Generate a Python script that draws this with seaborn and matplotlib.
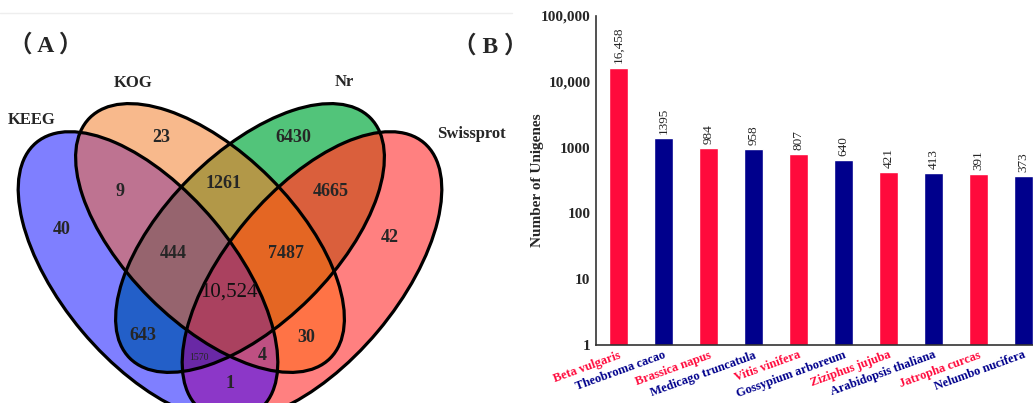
import numpy as np
import pandas as pd
import matplotlib
matplotlib.use("Agg")
import matplotlib.pyplot as plt
import seaborn as sns
from matplotlib.patches import Ellipse
from matplotlib.colors import ListedColormap
from matplotlib.ticker import FixedLocator, FuncFormatter, LogLocator

# ---- panel A data: annotation sets and region counts ----
set_names = ["KEEG", "KOG", "Nr", "Swissprot"]
region_keys = ["A", "B", "C", "D", "AB", "BC", "CD", "ABC", "BCD", "ABCD",
               "AC", "BD", "AD", "ACD", "ABD"]
region_counts = [40, 23, 6430, 42, 9, 1261, 4665, 444, 7487, 10524,
                 643, 30, 1, 1570, 4]

# ---- panel B data: top-hit species ----
species = ["Beta vulgaris", "Theobroma cacao", "Brassica napus",
           "Medicago truncatula", "Vitis vinifera", "Gossypium arboreum",
           "Ziziphus jujuba", "Arabidopsis thaliana", "Jatropha curcas",
           "Nelumbo nucifera"]
unigenes = [16458, 1395, 984, 958, 807, 640, 421, 413, 391, 373]
species_group = ["r", "b", "r", "b", "r", "b", "r", "b", "r", "b"]


def fmt_num(v):
    v = int(round(v))
    return f"{v:,}" if v >= 10000 else str(v)


sns.set_style("white")
plt.rcParams["font.family"] = ["Liberation Serif", "Noto Sans CJK SC"]

W, H = 1033, 403
fig = plt.figure(figsize=(W / 100, H / 100), dpi=100)

# ================= (A) Venn =================
axv = fig.add_axes([0, 0, 520 / W, 1])
axv.set_xlim(0, 520)
axv.set_ylim(H, 0)
axv.axis("off")

# ellipse geometry (pixel-like coords, y down)
ell = {
    "A": dict(c=(148, 276), a=174, b=86, ang=50),
    "B": dict(c=(210, 238), a=170, b=85, ang=45),
    "C": dict(c=(250, 238), a=170, b=85, ang=135),
    "D": dict(c=(312, 276), a=174, b=86, ang=130),
}
region_colors = {
    "A": (127, 127, 255), "B": (248, 185, 140), "C": (82, 196, 122),
    "D": (255, 128, 128), "AB": (190, 115, 145), "BC": (178, 152, 72),
    "CD": (218, 95, 60), "ABC": (150, 100, 110), "BCD": (228, 102, 35),
    "ABCD": (170, 65, 95), "AC": (35, 95, 200), "BD": (255, 115, 70),
    "AD": (140, 55, 200), "ACD": (105, 40, 165), "ABD": (190, 80, 130),
}

xs = np.linspace(0, 520, 2080)
ys = np.linspace(0, H, 1612)
X, Y = np.meshgrid(xs, ys)
code = np.zeros(X.shape, dtype=int)
for bit, k in enumerate("ABCD"):
    e = ell[k]
    t = np.deg2rad(e["ang"])
    dx, dy = X - e["c"][0], Y - e["c"][1]
    u = dx * np.cos(t) + dy * np.sin(t)
    v = -dx * np.sin(t) + dy * np.cos(t)
    code[(u / e["a"]) ** 2 + (v / e["b"]) ** 2 <= 1] += 1 << bit

cols = [(1, 1, 1, 0)] * 16
for k in region_keys:
    idx = sum(1 << "ABCD".index(ch) for ch in k)
    cols[idx] = tuple(np.array(region_colors[k]) / 255) + (1,)
axv.imshow(code, cmap=ListedColormap(cols), vmin=-0.5, vmax=15.5,
           extent=(0, 520, H, 0), interpolation="nearest", zorder=1)

for k in "ABCD":
    e = ell[k]
    axv.add_patch(Ellipse(e["c"], 2 * e["a"], 2 * e["b"], angle=e["ang"],
                          fill=False, ec="black", lw=2.3, zorder=3))

region_pos = {
    "A": (62, 230), "B": (161, 137), "C": (293, 137), "D": (390, 237),
    "AB": (120, 191), "BC": (224, 183), "CD": (331, 192), "ABC": (173, 253),
    "BCD": (286, 253), "ABCD": (229, 292), "AC": (143, 335), "BD": (306, 337),
    "AD": (230, 383), "ACD": (199, 357), "ABD": (262, 355),
}
for k, n in zip(region_keys, region_counts):
    x, y = region_pos[k]
    if k == "ABCD":
        axv.text(x, y, fmt_num(n), fontsize=15, ha="center", va="center",
                 color="#111111", zorder=4)
    elif k == "ACD":
        axv.text(x, y, str(n), fontsize=7, ha="center", va="center", zorder=4)
    else:
        axv.text(x, y, str(n), fontsize=13, fontweight="bold",
                 ha="center", va="center", zorder=4)

name_pos = [(32, 120), (133, 83), (344, 82), (471, 134)]
for name, (x, y) in zip(set_names, name_pos):
    axv.text(x, y, name, fontsize=12, fontweight="bold", ha="center", va="center")

axv.text(46, 45, "（ A ）", fontsize=17, fontweight="bold", ha="center", va="center")
axv.text(490, 46, "（ B ）", fontsize=17, fontweight="bold", ha="center", va="center")
axv.axhline(13, xmin=0, xmax=512 / 520, color="#eeeeee", lw=1)

# ================= (B) bar chart =================
df = pd.DataFrame({"species": species, "unigenes": unigenes, "grp": species_group})
bar_red, bar_blue = "#FF0A3C", "#00008C"

axb = fig.add_axes([596 / W, 1 - 345 / H, 450 / W, (345 - 16) / H])
sns.barplot(data=df, x="species", y="unigenes", hue="grp",
            palette={"r": bar_red, "b": bar_blue}, width=0.44,
            legend=False, ax=axb, saturation=1)
axb.set_yscale("log")
axb.set_ylim(1, 100000)
axb.set_xlim(-0.5, len(species) - 0.5)

axb.yaxis.set_major_locator(FixedLocator([1, 10, 100, 1000, 10000, 100000]))
axb.yaxis.set_major_formatter(FuncFormatter(lambda v, p: fmt_num(v)))
axb.yaxis.set_minor_locator(LogLocator(base=10, subs=np.arange(2, 10)))
axb.tick_params(axis="y", which="major", direction="in", length=5, width=1,
                labelsize=11, pad=4)
axb.tick_params(axis="y", which="minor", direction="in", length=2.5, width=0.8)
for lab in axb.get_yticklabels():
    lab.set_fontweight("bold")

axb.xaxis.set_minor_locator(FixedLocator(np.arange(0.5, len(species) - 0.5, 1)))
axb.tick_params(axis="x", which="major", length=0, pad=3)
axb.tick_params(axis="x", which="minor", direction="in", length=3, width=1)
axb.set_xticks(range(len(species)))
axb.set_xticklabels(species, rotation=20, ha="right", va="top",
                    rotation_mode="anchor", fontsize=9, fontweight="bold")
for lab, g in zip(axb.get_xticklabels(), species_group):
    lab.set_color(bar_red if g == "r" else bar_blue)

axb.set_xlabel("")
axb.set_ylabel("Number of Unigenes", fontsize=11, fontweight="bold")
axb.yaxis.set_label_coords(-52 / 450, 0.5)

for s in ["top", "right"]:
    axb.spines[s].set_visible(False)
for s in ["left", "bottom"]:
    axb.spines[s].set_color("#333333")
    axb.spines[s].set_linewidth(1.2)

for i, v in enumerate(unigenes):
    axb.annotate(fmt_num(v), (i, v), xytext=(0, 3), textcoords="offset points",
                 rotation=90, ha="center", va="bottom", fontsize=9.5)

fig.savefig("out.png", dpi=100)
